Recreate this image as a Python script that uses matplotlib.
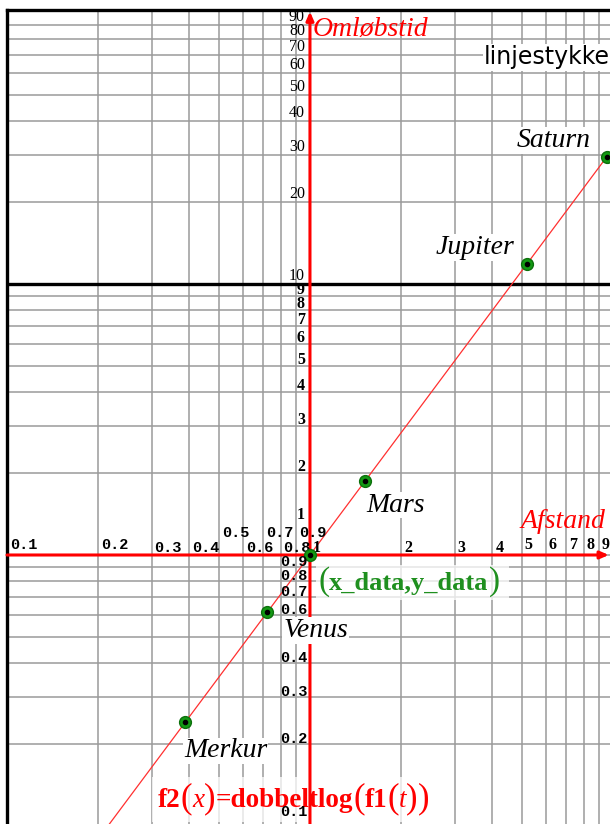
import numpy as np
import matplotlib.pyplot as plt
from matplotlib.patches import Rectangle
from matplotlib.ticker import FixedLocator, NullLocator

# planet data: distance (AU) and orbital period (years)
planets = ['Merkur', 'Venus', '', 'Mars', 'Jupiter', 'Saturn']
afstand = [0.387, 0.723, 1.0, 1.524, 5.203, 9.54]
omloebstid = [0.241, 0.615, 1.0, 1.881, 11.86, 29.46]

# grid and tick labels on the log axes
x_small = ['0.1', '0.2', '0.3', '0.4', '0.5', '0.6', '0.7', '0.8', '0.9']
x_big = ['1', '2', '3', '4', '5', '6', '7', '8', '9']
y_small = ['0.1', '0.2', '0.3', '0.4', '0.6', '0.7', '0.8', '0.9']
y_mid = ['1', '2', '3', '4', '5', '6', '7', '8', '9']
y_big = ['10', '20', '30', '40', '50', '60', '70', '80', '90']
x_grid = [0.1, 0.2, 0.3, 0.4, 0.5, 0.6, 0.7, 0.8, 0.9, 1, 2, 3, 4, 5, 6, 7, 8, 9]
y_grid = x_grid + [10, 20, 30, 40, 50, 60, 70, 80, 90]
segment_y = 10

P = 0.72  # pixels -> points at dpi 100
SERIF = 'Liberation Serif'
MONO = 'Liberation Mono'

fig = plt.figure(figsize=(6.1, 8.24), dpi=100)
ax = fig.add_axes([7 / 610, 0, 603 / 610, 814 / 824])
ax.set_xscale('log')
ax.set_yscale('log')
ax.set_xlim(0.1, 9.78)
ax.set_ylim(0.1017, 102.6)

ax.xaxis.set_major_locator(FixedLocator(x_grid))
ax.yaxis.set_major_locator(FixedLocator(y_grid))
ax.xaxis.set_minor_locator(NullLocator())
ax.yaxis.set_minor_locator(NullLocator())
ax.tick_params(which='both', length=0, labelbottom=False, labelleft=False)
ax.grid(True, color='#9a9a9a', lw=1.1)
ax.set_axisbelow(True)
for s in ('right', 'bottom'):
    ax.spines[s].set_visible(False)
for s in ('left', 'top'):
    ax.spines[s].set_linewidth(2.4)
    ax.spines[s].set_color('black')


def lab(x, y, s, dx, dy, coords='data', **kw):
    return ax.annotate(s, (x, y), xycoords=coords, xytext=(dx * P, dy * P),
                       textcoords='offset points', annotation_clip=False, **kw)


def chain(x0, y0, pieces, color, zorder):
    # write text pieces one after another on a common baseline
    prev = None
    for s, size, weight, style in pieces:
        kw = dict(fontfamily=SERIF, fontsize=size, fontweight=weight,
                  style=style, color=color, va='baseline', ha='left',
                  zorder=zorder)
        if prev is None:
            prev = ax.text(x0, y0, s, transform=ax.transAxes, **kw)
        else:
            prev = ax.annotate(s, (1, y0), xycoords=(prev, ax.transAxes),
                               annotation_clip=False, **kw)
    return prev


# red axes through (1, 1)
arrow = dict(arrowstyle='-|>,head_length=0.5,head_width=0.22', color='red',
             lw=2.2, shrinkA=0, shrinkB=0)
ax.annotate('', xy=(1, 0.998), xycoords=('data', 'axes fraction'),
            xytext=(1, 0), textcoords=('data', 'axes fraction'),
            arrowprops=arrow, zorder=4)
ax.annotate('', xy=(0.998, 1), xycoords=('axes fraction', 'data'),
            xytext=(0, 1), textcoords=('axes fraction', 'data'),
            arrowprops=arrow, zorder=4)

# black segment
ax.axhline(segment_y, color='black', lw=2.4, zorder=3)

# f2: straight line in log-log through the fitted power law
a, b = np.polyfit(np.log10(afstand), np.log10(omloebstid), 1)
ax.axline((1, 10 ** b), (10, 10 ** (a + b)), color='#ff3030', lw=0.9, zorder=3)

# tick labels
for t in x_small:
    dy = 22 if t in ('0.5', '0.7', '0.9') else (10 if t in ('0.1', '0.2') else 7)
    lab(float(t), 1, t, 3, dy, ha='left', va='center', fontfamily=MONO,
        fontweight='bold', fontsize=11, zorder=5)
for t in x_big:
    dy = 10 if int(t) >= 5 else 7
    lab(float(t), 1, t, 3, dy, ha='left', va='center', fontfamily=SERIF,
        fontweight='bold', fontsize=11.5, zorder=5)
for t in y_small:
    dy = 14 if t == '0.1' else 5
    lab(1, float(t), t, -2, dy, ha='right', va='center', fontfamily=MONO,
        fontweight='bold', fontsize=11, zorder=8)
for t in y_mid:
    dy = 40 if t == '1' else 6
    lab(1, float(t), t, -5, dy, ha='right', va='center', fontfamily=SERIF,
        fontweight='bold', fontsize=11.5, zorder=5)
for t in y_big:
    lab(1, float(t), t, -5, 8, ha='right', va='center', fontfamily=SERIF,
        fontsize=11.5, zorder=5)

# planets
ax.plot(afstand, omloebstid, 'o', ms=8.5, mfc='#139a13', mec='#0c700c',
        zorder=6, clip_on=False)
ax.plot(afstand, omloebstid, 'o', ms=3, color='black', zorder=7, clip_on=False)

name_offsets = {'Merkur': (-1, -35, 'left'), 'Venus': (16, -25, 'left'),
                'Mars': (1, -31, 'left'), 'Jupiter': (-13, 10, 'right'),
                'Saturn': (-16, 10, 'right')}
for name, x, y in zip(planets, afstand, omloebstid):
    if not name:
        continue
    dx, dy, ha = name_offsets[name]
    lab(x, y, name, dx, dy, ha=ha, va='baseline', fontfamily=SERIF,
        style='italic', fontsize=20, zorder=9,
        bbox=dict(facecolor='white', edgecolor='none', pad=0.5))

# axis titles
lab(1, 1, 'Omløbstid', 3, -26, coords=('data', 'axes fraction'), ha='left',
    va='baseline', fontfamily=SERIF, style='italic', fontsize=20, color='red')
lab(1, 1, 'Afstand', -5, 27, coords=('axes fraction', 'data'), ha='right',
    va='baseline', fontfamily=SERIF, style='italic', fontsize=20, color='red')
ax.text(1.0, 0.942, 'linjestykke', transform=ax.transAxes, ha='right',
        va='center', fontfamily='DejaVu Sans', fontsize=17, color='black',
        bbox=dict(facecolor='white', edgecolor='none', pad=1), zorder=9)

# point label at the origin (1, 1)
ax.add_patch(Rectangle((0.513, 0.275), 0.32, 0.043, transform=ax.transAxes,
                       fc='white', ec='none', alpha=0.75, zorder=2.5))
chain(0.516, 0.2875, [('(', 24, 'normal', 'normal'),
                      ('x_data,y_data', 19, 'bold', 'normal'),
                      (')', 24, 'normal', 'normal')], '#1f8f1f', 9)

# function label
ax.add_patch(Rectangle((0.24, 0.002), 0.46, 0.056, transform=ax.transAxes,
                       fc='white', ec='none', alpha=0.75, zorder=2.5))
chain(0.2504, 0.0205, [('f2', 19.5, 'bold', 'normal'),
                       ('(', 25, 'normal', 'normal'),
                       ('x', 19.5, 'normal', 'italic'),
                       (')', 25, 'normal', 'normal'),
                       ('=dobbeltlog', 19.5, 'bold', 'normal'),
                       ('(', 25, 'normal', 'normal'),
                       ('f1', 19.5, 'bold', 'normal'),
                       ('(', 25, 'normal', 'normal'),
                       ('t', 19.5, 'normal', 'italic'),
                       (')', 25, 'normal', 'normal'),
                       (')', 25, 'normal', 'normal')], 'red', 7)

fig.savefig('out.png', dpi=100)
